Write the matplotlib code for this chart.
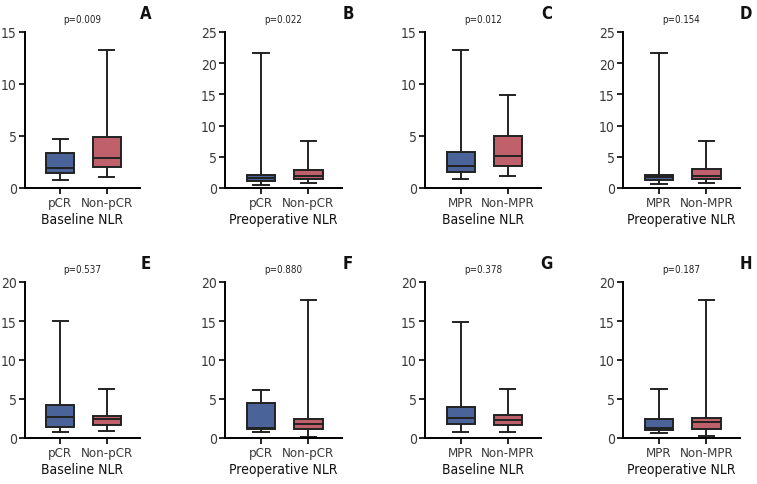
import matplotlib
matplotlib.use("Agg")
from matplotlib import pyplot as plt
from matplotlib import font_manager

# condensed look: pick what is installed
fonts = {(f.name, f.stretch) for f in font_manager.fontManager.ttflist}
names = {f[0] for f in fonts}
if 'Liberation Sans Narrow' in names:
    plt.rcParams['font.family'] = ['Liberation Sans Narrow', 'DejaVu Sans']
elif any(n == 'DejaVu Sans' and s == 'condensed' for n, s in fonts):
    plt.rcParams['font.family'] = ['DejaVu Sans']
    plt.rcParams['font.stretch'] = 'condensed'
else:
    plt.rcParams['font.family'] = ['Roboto', 'DejaVu Sans']

# box stats per panel: [low whisker, q1, median, q3, high whisker]
panels = ['A', 'B', 'C', 'D', 'E', 'F', 'G', 'H']
p_values = ['p=0.009', 'p=0.022', 'p=0.012', 'p=0.154',
            'p=0.537', 'p=0.880', 'p=0.378', 'p=0.187']
groups = [['pCR', 'Non-pCR'], ['pCR', 'Non-pCR'], ['MPR', 'Non-MPR'], ['MPR', 'Non-MPR'],
          ['pCR', 'Non-pCR'], ['pCR', 'Non-pCR'], ['MPR', 'Non-MPR'], ['MPR', 'Non-MPR']]
xlabels = ['Baseline NLR', 'Preoperative NLR', 'Baseline NLR', 'Preoperative NLR',
           'Baseline NLR', 'Preoperative NLR', 'Baseline NLR', 'Preoperative NLR']
ymax = [15, 25, 15, 25, 20, 20, 20, 20]

stats_good = [
    [0.8, 1.4, 1.95, 3.4, 4.7],
    [0.55, 1.1, 1.6, 2.1, 21.6],
    [0.85, 1.5, 2.08, 3.43, 13.3],
    [0.6, 1.3, 1.7, 2.12, 21.6],
    [0.81, 1.36, 2.73, 4.18, 14.95],
    [0.81, 1.2, 1.25, 4.43, 6.18],
    [0.77, 1.75, 2.6, 4.0, 14.9],
    [0.6, 0.98, 1.24, 2.39, 6.23],
]
stats_bad = [
    [1.1, 2.05, 2.85, 4.9, 13.3],
    [0.75, 1.45, 2.0, 2.93, 7.6],
    [1.18, 2.14, 3.1, 5.03, 8.97],
    [0.8, 1.45, 1.85, 3.05, 7.6],
    [0.85, 1.7, 2.43, 2.86, 6.27],
    [0.17, 1.2, 1.83, 2.47, 17.65],
    [0.81, 1.7, 2.35, 2.9, 6.27],
    [0.26, 1.2, 2.09, 2.56, 17.7],
]

blue = '#4a6499'
red = '#c0606b'
edge = '#222222'

fig = plt.figure(figsize=(7.57, 4.85), dpi=100)
lefts = [25, 225, 425, 623]
widths = [115, 117, 116, 117]
bottoms = [189, 439]
H = 485.0
W = 757.0

for i in range(8):
    row = i // 4
    col = i % 4
    ax = fig.add_axes([lefts[col] / W, 1 - bottoms[row] / H, widths[col] / W, 156 / H])

    bstats = []
    for s, lab in zip([stats_good[i], stats_bad[i]], groups[i]):
        bstats.append(dict(whislo=s[0], q1=s[1], med=s[2], q3=s[3], whishi=s[4],
                           label=lab, fliers=[]))
    bp = ax.bxp(bstats, positions=[0, 1], widths=0.6, capwidths=0.32,
                patch_artist=True, showfliers=False,
                boxprops=dict(edgecolor=edge, linewidth=1.4),
                medianprops=dict(color=edge, linewidth=1.4),
                whiskerprops=dict(color=edge, linewidth=1.4),
                capprops=dict(color=edge, linewidth=1.4))
    bp['boxes'][0].set_facecolor(blue)
    bp['boxes'][1].set_facecolor(red)

    ax.set_xlim(-0.76, 1.71)
    ax.set_ylim(0, ymax[i])
    ax.set_yticks(range(0, ymax[i] + 1, 5))
    ax.spines['top'].set_visible(False)
    ax.spines['right'].set_visible(False)
    ax.spines['left'].set_linewidth(1.4)
    ax.spines['bottom'].set_linewidth(1.4)
    ax.tick_params(axis='both', direction='out', length=4, width=1.2,
                   labelsize=10, labelcolor='#3a3a3a', pad=2)
    ax.tick_params(axis='x', labelsize=9.5)
    ax.set_xlabel(xlabels[i], fontsize=10, color='#111111', labelpad=2)

    ax.text(0.5, 1.085, p_values[i], transform=ax.transAxes, ha='center', va='center',
            fontsize=7, color='#222222')
    ax.text(1.05, 1.12, panels[i], transform=ax.transAxes, ha='center', va='center',
            fontsize=12, fontweight='bold', color='#111111')

fig.savefig('out.png', dpi=100)
